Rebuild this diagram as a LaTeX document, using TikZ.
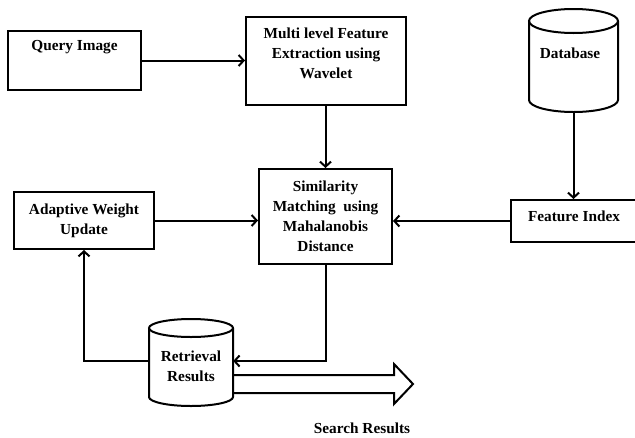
\documentclass[tikz,border=0pt]{standalone}
\usepackage{fontspec}
\setmainfont{Liberation Serif}
\usetikzlibrary{arrows.meta}
\begin{document}
\begin{tikzpicture}[x=1pt,y=-1pt,
  box/.style={draw, line width=2pt, inner sep=0pt, align=center},
  txt/.style={inner sep=0pt, align=center, font=\fontsize{15.3}{20}\selectfont\bfseries},
  arr/.style={line width=2pt, -{Straight Barb[length=5pt,width=11pt]}},
  cyl/.style={line width=2pt}]
\useasboundingbox (0,0) rectangle (635,437);
% boxes
\node[box, minimum width=133pt, minimum height=59pt] (qbox) at (74.5,60.5) {};
\node[txt] (qtxt) at (74.5,47) {Query Image};
\node[box, minimum width=160pt, minimum height=88pt] (mbox) at (326,61) {};
\node[txt] (mtxt) at (326,53) {Multi level Feature\\Extraction using\\Wavelet};
\node[box, txt, minimum width=133pt, minimum height=95pt] (sbox) at (325.5,216.5) {Similarity\\Matching\ \ using\\Mahalanobis\\Distance};
\node[box, txt, minimum width=140pt, minimum height=57pt] (abox) at (84,220.5) {Adaptive Weight\\Update};
\node[box, minimum width=126pt, minimum height=42pt] (fbox) at (574,221) {};
\node[txt] (ftxt) at (574,216) {Feature Index};
% database cylinder
\draw[cyl] (529,21) -- (529,100) arc[start angle=180, end angle=360, x radius=44.5pt, y radius=12pt] -- (618,21);
\draw[cyl] (573.5,21) ellipse[x radius=44.5pt, y radius=12pt];
\node[inner sep=0pt, minimum width=89pt, minimum height=103pt] (db) at (573.5,60.5) {};
\node[txt] (dtxt) at (570,53) {Database};
% retrieval cylinder
\draw[cyl] (149,328) -- (149,397) arc[start angle=180, end angle=360, x radius=42pt, y radius=9pt] -- (233,328);
\draw[cyl] (191,328) ellipse[x radius=42pt, y radius=9pt];
\node[inner sep=0pt, minimum width=84pt, minimum height=87pt] (ret) at (191,362.5) {};
\node[txt] (rtxt) at (191,366) {Retrieval\\Results};
% connectors
\coordinate (j) at (325.5,361);
\draw[arr] (qbox.east) -- (mbox.west |- qbox.east);
\draw[arr] (sbox.north |- mbox.south) -- (sbox.north);
\draw[arr] (db.south) -- (fbox.north -| db.south);
\draw[arr] (fbox.west) -- (sbox.east |- fbox.west);
\draw[arr] (abox.east) -- (sbox.west |- abox.east);
\draw[arr] (sbox.south) -- (j) -- (ret.east |- j);
\draw[arr] (ret.west |- j) -| (abox.south);
% wide output arrow
\draw[line width=2pt, line join=miter] (ret.east |- 0,375) -- (394,375) -- (394,364) -- (413,384) -- (394,404) -- (394,393) -- (ret.east |- 0,393);
\node[txt] (stxt) at (362,428) {Search Results};
\end{tikzpicture}
\end{document}
